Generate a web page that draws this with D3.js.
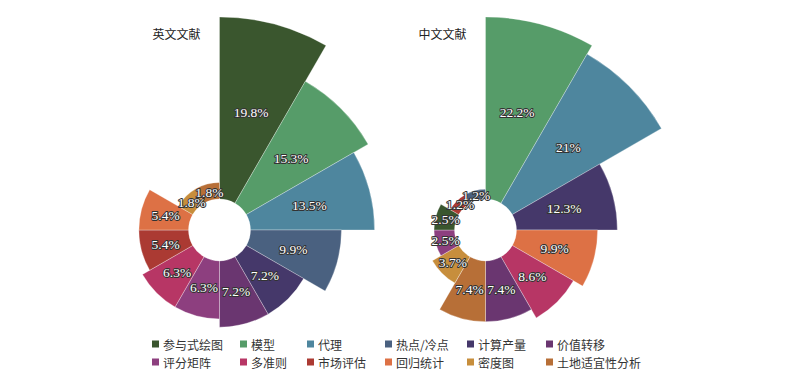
<!DOCTYPE html>
<html>
<head>
    <meta charset="utf-8">
    <style>
        body { margin: 0; background: #fff; }
        svg { display: block; }
        .title { font-family: 'Noto Sans CJK SC'; font-size: 12px; fill: #222; }
        .label {
            font-family: 'Liberation Serif';
            font-size: 13.5px;
            fill: #fff;
            stroke: #333;
            stroke-width: 2px;
            paint-order: stroke;
            stroke-linejoin: round;
        }
        .legend text { font-family: 'Noto Sans CJK SC'; font-size: 12px; fill: #333; }
    </style>
</head>
<body>
<svg width="800" height="381"></svg>

<script src="https://d3js.org/d3.v7.min.js"></script>
<script>
    // categories in legend order, with their colours
    let categories = ["参与式绘图", "模型", "代理", "热点/冷点", "计算产量", "价值转移",
        "评分矩阵", "多准则", "市场评估", "回归统计", "密度图", "土地适宜性分析"]
    let colors = ["#3a562e", "#569c69", "#4e869e", "#4a6180", "#45386a", "#6a3670",
        "#8d3f7f", "#b73665", "#ab3a33", "#dd7145", "#c78e3c", "#b76f37"]

    // 英文文献 (clockwise from the top)
    let enNames = ["参与式绘图", "模型", "代理", "热点/冷点", "计算产量", "价值转移",
        "评分矩阵", "多准则", "市场评估", "回归统计", "密度图", "土地适宜性分析"]
    let enValues = [19.8, 15.3, 13.5, 9.9, 7.2, 7.2, 6.3, 6.3, 5.4, 5.4, 1.8, 1.8]

    // 中文文献 (clockwise from the top)
    let cnNames = ["模型", "代理", "计算产量", "回归统计", "多准则", "价值转移",
        "土地适宜性分析", "密度图", "评分矩阵", "参与式绘图", "市场评估", "热点/冷点"]
    let cnValues = [22.2, 21, 12.3, 9.9, 8.6, 7.4, 7.4, 3.7, 2.5, 2.5, 1.2, 1.2]

    let color = d3.scaleOrdinal().domain(categories).range(colors)
    let svg = d3.select("svg")

    function rose(cx, cy, title, names, values) {
        let data = names.map((n, i) => ({ name: n, value: values[i], i: i }))
        let r = d3.scaleLinear().domain([0, d3.max(values)]).range([31, 213])
        let step = 2 * Math.PI / data.length

        let arc = d3.arc()
            .innerRadius(31)
            .outerRadius(d => r(d.value))
            .startAngle(d => d.i * step)
            .endAngle(d => (d.i + 1) * step)

        let g = svg.append("g").attr("transform", `translate(${cx},${cy})`)

        g.selectAll("path")
            .data(data)
            .join("path")
            .attr("d", arc)
            .style("fill", d => color(d.name))
            .style("stroke", "rgba(255,255,255,0.5)")
            .style("stroke-width", 0.6)

        g.selectAll(".label")
            .data(data)
            .join("text")
            .attr("class", "label")
            .attr("x", d => arc.centroid(d)[0])
            .attr("y", d => arc.centroid(d)[1])
            .attr("text-anchor", "middle")
            .attr("dominant-baseline", "central")
            .text(d => d.value + "%")

        svg.append("text")
            .attr("class", "title")
            .attr("x", cx - 67)
            .attr("y", 33)
            .attr("dominant-baseline", "central")
            .text(title)
    }

    rose(219.5, 230, "英文文献", enNames, enValues)
    rose(485.5, 230, "中文文献", cnNames, cnValues)

    // legend: two rows of six
    let colX = [152, 240, 307, 385, 467, 546]
    let rowY = [344, 362]

    let legend = svg.append("g").attr("class", "legend")
        .selectAll("g")
        .data(categories)
        .join("g")
        .attr("transform", (d, i) => `translate(${colX[i % 6]},${rowY[Math.floor(i / 6)]})`)

    legend.append("rect")
        .attr("x", 0)
        .attr("y", -3.5)
        .attr("width", 7)
        .attr("height", 7)
        .style("fill", d => color(d))

    legend.append("text")
        .attr("x", 11)
        .attr("y", 0)
        .attr("dominant-baseline", "central")
        .text(d => d)
</script>
</body>
</html>
